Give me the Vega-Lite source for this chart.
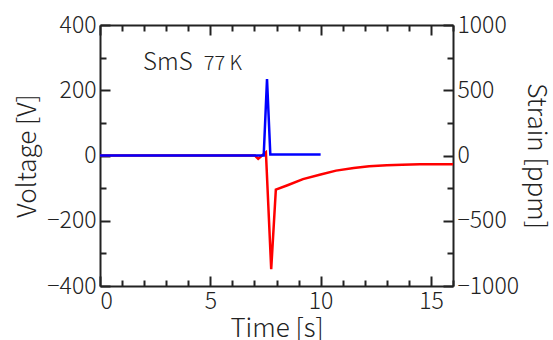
{
  "$schema": "https://vega.github.io/schema/vega-lite/v6.json",
  "autosize": "none",
  "padding": {"left": 100, "top": 25, "right": 100, "bottom": 54},
  "width": 353,
  "height": 261,
  "background": "white",
  "config": {
    "view": {"stroke": null},
    "axis": {
      "grid": false,
      "domainColor": "#222222",
      "domainWidth": 2,
      "tickColor": "#222222",
      "tickWidth": 2,
      "format": "d",
      "labelFont": "Noto Sans CJK JP",
      "labelFontSize": 23,
      "labelFontWeight": 300,
      "labelColor": "#222222",
      "titleFont": "Noto Sans CJK JP",
      "titleFontSize": 26,
      "titleFontWeight": 300,
      "titleColor": "#222222"
    }
  },
  "datasets": {
    "volt": [
      {"t": 0, "v": 0},
      {"t": 7.42, "v": 0},
      {"t": 7.57, "v": 234},
      {"t": 7.72, "v": 3},
      {"t": 10, "v": 3}
    ],
    "strain": [
      {"t": 0, "s": 0},
      {"t": 7.02, "s": 0},
      {"t": 7.17, "s": -25},
      {"t": 7.52, "s": 25},
      {"t": 7.76, "s": -872},
      {"t": 7.97, "s": -262},
      {"t": 8.5, "s": -228},
      {"t": 9.2, "s": -181},
      {"t": 10, "s": -145},
      {"t": 10.7, "s": -116},
      {"t": 11.5, "s": -96},
      {"t": 12.2, "s": -83},
      {"t": 13, "s": -75},
      {"t": 13.7, "s": -70},
      {"t": 14.5, "s": -68},
      {"t": 15.3, "s": -67},
      {"t": 16, "s": -68}
    ],
    "notes": [
      {"t": 1.95, "v": 262, "label": "SmS", "size": 24},
      {"t": 4.7, "v": 262, "label": "77 K", "size": 20}
    ]
  },
  "layer": [
    {
      "data": {"name": "strain"},
      "mark": {"type": "line", "color": "#ff0000", "strokeWidth": 2.5},
      "encoding": {
        "x": {"field": "t", "type": "quantitative",
              "scale": {"domain": [0, 16], "nice": false, "zero": false},
              "axis": {"orient": "top", "values": [0, 5, 10, 15], "tickSize": -10, "labels": false, "title": null}},
        "y": {"field": "s", "type": "quantitative",
              "scale": {"domain": [-1000, 1000], "nice": false},
              "axis": {"orient": "right", "values": [-1000, -500, 0, 500, 1000], "tickSize": -10, "labelPadding": 14,
                       "title": "Strain [ppm]", "titleAngle": 90, "titlePadding": 4}}
      }
    },
    {
      "data": {"name": "volt"},
      "mark": {"type": "line", "color": "#0000ff", "strokeWidth": 2.5},
      "encoding": {
        "x": {"field": "t", "type": "quantitative",
              "scale": {"domain": [0, 16], "nice": false, "zero": false},
              "axis": {"orient": "bottom", "values": [0, 5, 10, 15], "tickSize": -10, "labelPadding": 14,
                       "title": "Time [s]", "titlePadding": 2}},
        "y": {"field": "v", "type": "quantitative",
              "scale": {"domain": [-400, 400], "nice": false},
              "axis": {"orient": "left", "values": [-400, -200, 0, 200, 400], "tickSize": -10, "labelPadding": 14,
                       "title": "Voltage [V]", "titlePadding": 6}}
      }
    },
    {
      "data": {"name": "volt"},
      "mark": {"type": "line", "strokeOpacity": 0},
      "encoding": {
        "x": {"field": "t", "type": "quantitative",
              "scale": {"domain": [0, 16], "nice": false, "zero": false},
              "axis": {"orient": "bottom", "values": [1, 2, 3, 4, 6, 7, 8, 9, 11, 12, 13, 14, 16], "tickSize": -6, "labels": false, "domain": false, "title": null}},
        "y": {"field": "v", "type": "quantitative",
              "scale": {"domain": [-400, 400], "nice": false},
              "axis": {"orient": "left", "values": [-300, -100, 100, 300], "tickSize": -6, "labels": false, "domain": false, "title": null}}
      }
    },
    {
      "data": {"name": "strain"},
      "mark": {"type": "line", "strokeOpacity": 0},
      "encoding": {
        "x": {"field": "t", "type": "quantitative",
              "scale": {"domain": [0, 16], "nice": false, "zero": false},
              "axis": {"orient": "top", "values": [1, 2, 3, 4, 6, 7, 8, 9, 11, 12, 13, 14, 16], "tickSize": -6, "labels": false, "domain": false, "title": null}},
        "y": {"field": "s", "type": "quantitative",
              "scale": {"domain": [-1000, 1000], "nice": false},
              "axis": {"orient": "right", "values": [-750, -250, 250, 750], "tickSize": -6, "labels": false, "domain": false, "title": null}}
      }
    },
    {
      "data": {"name": "notes"},
      "mark": {"type": "text", "font": "Noto Sans CJK JP", "fontWeight": 300, "align": "left", "baseline": "alphabetic", "color": "#222222"},
      "encoding": {
        "x": {"field": "t", "type": "quantitative", "scale": {"domain": [0, 16], "nice": false, "zero": false}, "axis": null},
        "y": {"field": "v", "type": "quantitative", "scale": {"domain": [-400, 400], "nice": false}, "axis": null},
        "text": {"field": "label"},
        "size": {"field": "size", "type": "quantitative", "scale": null, "legend": null}
      }
    }
  ],
  "resolve": {"scale": {"x": "independent", "y": "independent"}}
}
